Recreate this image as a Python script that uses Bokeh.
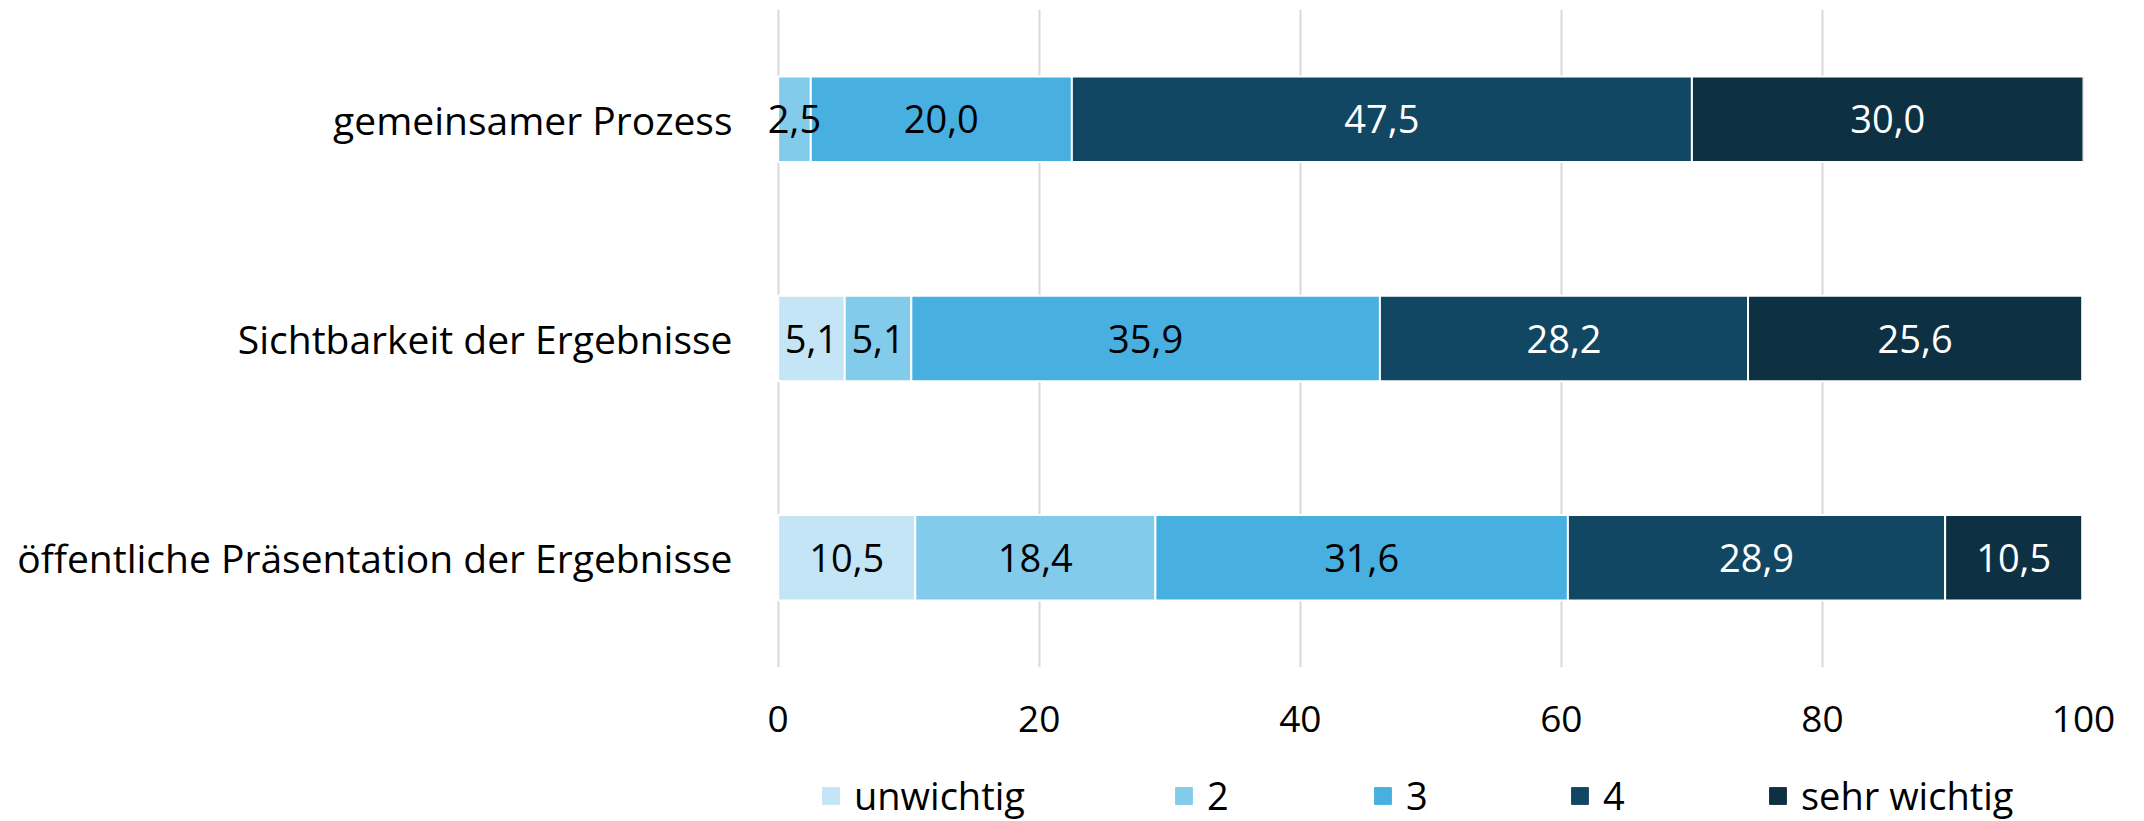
from bokeh.plotting import figure
from bokeh.layouts import column
from bokeh.models import (ColumnDataSource, FactorRange, Range1d, FixedTicker,
                          Legend, LegendItem)
from bokeh.core.properties import value
from bokeh.embed import file_html
from bokeh.resources import INLINE

# ---- data ----
categories = ["gemeinsamer Prozess", "Sichtbarkeit der Ergebnisse",
              "öffentliche Präsentation der Ergebnisse"]
series_names = ["unwichtig", "2", "3", "4", "sehr wichtig"]
unwichtig = [0.0, 5.1, 10.5]
s2 = [2.5, 5.1, 18.4]
s3 = [20.0, 35.9, 31.6]
s4 = [47.5, 28.2, 28.9]
sehr_wichtig = [30.0, 25.6, 10.5]
x_ticks = [0, 20, 40, 60, 80, 100]

colors = ["#C4E5F5", "#83CBEB", "#47B0E0", "#124763", "#0D3043"]
label_colors = ["black", "black", "black", "white", "white"]
FONT = "Open Sans"

series = [unwichtig, s2, s3, s4, sehr_wichtig]
keys = ["k0", "k1", "k2", "k3", "k4"]

data = {"cat": categories}
for k, s in zip(keys, series):
    data[k] = s
source = ColumnDataSource(data)

# small negative start so the "2,5" label that overhangs 0 is not clipped
p = figure(width=2128, height=760, output_backend="svg", toolbar_location=None,
           y_range=FactorRange(factors=list(reversed(categories))),
           x_range=Range1d(-1.2, 100),
           min_border_left=762, min_border_right=45,
           min_border_top=9, min_border_bottom=93)
p.outline_line_color = None
p.background_fill_color = "white"

renderers = p.hbar_stack(keys, y="cat", height=0.39, color=colors,
                         line_color="white", line_width=2, source=source)

# data labels
for i, (k, s) in enumerate(zip(keys, series)):
    xs, ys, txt = [], [], []
    for j, cat in enumerate(categories):
        v = s[j]
        if v <= 0:
            continue
        left = sum(series[m][j] for m in range(i))
        xs.append(left + v / 2)
        ys.append(cat)
        txt.append(f"{v:.1f}".replace(".", ","))
    p.text(x=xs, y=ys, text=txt, text_align="center", text_baseline="middle",
           text_color=label_colors[i], text_font=value(FONT), text_font_size="38px")

# axes
p.xaxis.ticker = FixedTicker(ticks=x_ticks)
p.xaxis.axis_line_color = None
p.xaxis.major_tick_line_color = None
p.xaxis.minor_tick_line_color = None
p.xaxis.major_label_standoff = 32
p.xaxis.major_label_text_font = FONT
p.xaxis.major_label_text_font_size = "37px"
p.xaxis.major_label_text_color = "black"

p.yaxis.axis_line_color = None
p.yaxis.major_tick_line_color = None
p.yaxis.minor_tick_line_color = None
p.yaxis.major_label_standoff = 24
p.yaxis.major_label_text_font = FONT
p.yaxis.major_label_text_font_size = "39px"
p.yaxis.major_label_text_color = "black"

p.ygrid.grid_line_color = None
p.xgrid.grid_line_color = "#D9D9D9"
p.xgrid.grid_line_width = 2
p.xgrid.ticker = FixedTicker(ticks=x_ticks)

# legend strip below the chart (its frame is aligned with the chart's frame)
lf = figure(width=2128, height=61, output_backend="svg", toolbar_location=None,
            x_range=Range1d(-1.2, 100),
            y_range=FactorRange(factors=list(reversed(categories))),
            x_axis_type=None, y_axis_type=None,
            min_border_left=762, min_border_right=45,
            min_border_top=0, min_border_bottom=0)
lf.outline_line_color = None
lf.grid.visible = False
proxies = lf.hbar_stack(keys, y="cat", height=0.39, color=colors,
                        source=source)
leg_x = [58, 411, 610, 807, 1005]
for name, r, lx in zip(series_names, proxies, leg_x):
    r.visible = False
    lg = Legend(items=[LegendItem(label=name, renderers=[r])],
                location=(lx, 0), orientation="horizontal",
                glyph_width=21, glyph_height=21, label_standoff=13,
                padding=0, margin=0, border_line_color=None,
                background_fill_alpha=0, inactive_fill_alpha=0,
                click_policy="none",
                label_text_font=FONT, label_text_font_size="38px",
                label_text_color="black")
    lf.add_layout(lg, "center")

layout = column(p, lf, spacing=0)
open("out.html", "w").write(file_html(layout, INLINE))
